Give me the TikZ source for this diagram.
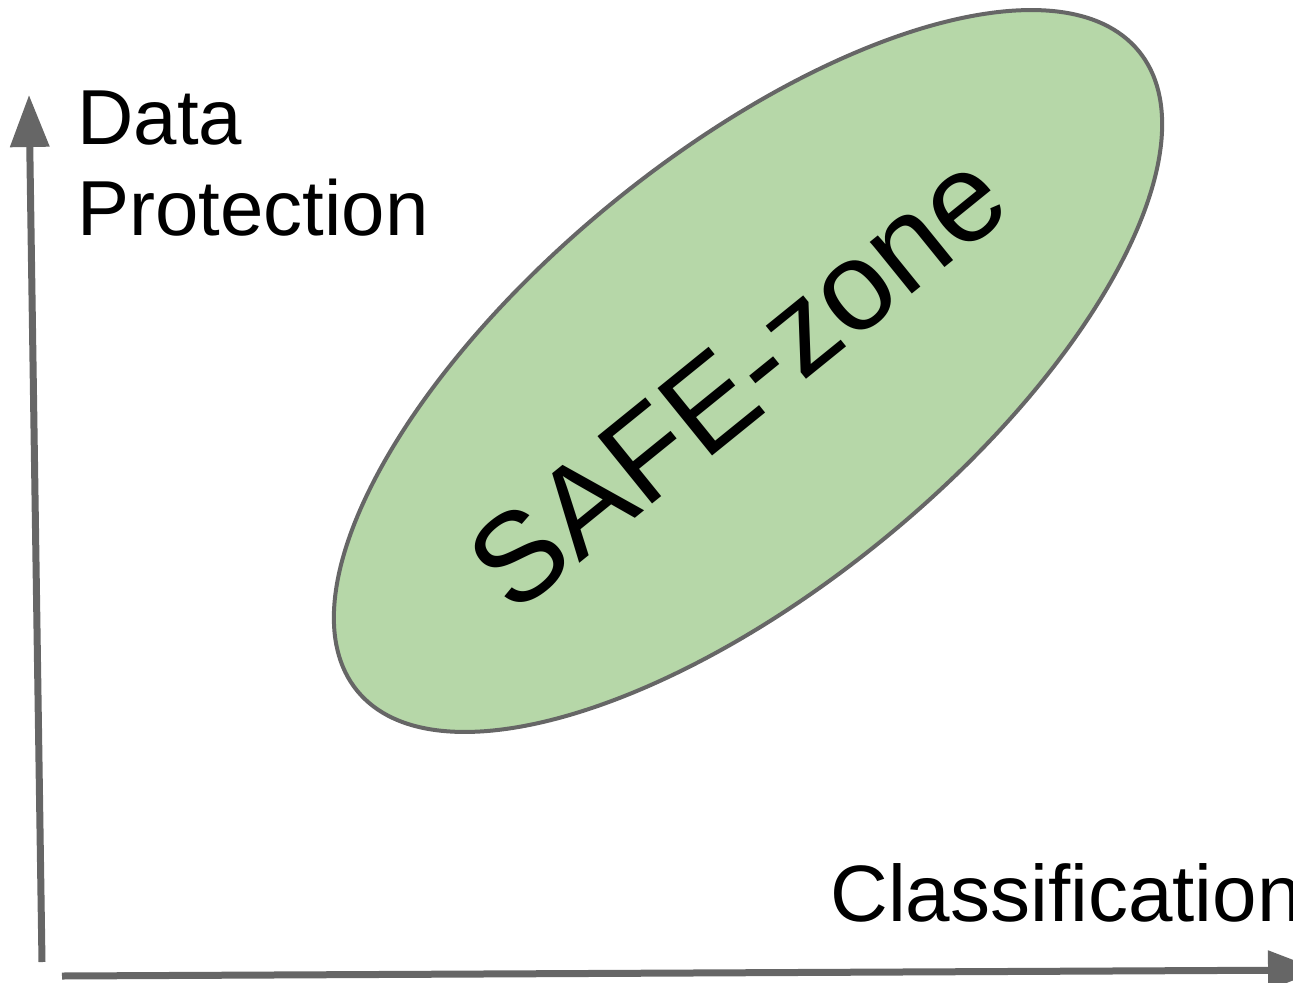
\documentclass[tikz,border=0pt]{standalone}
\usepackage{fontspec}
\setmainfont{Liberation Sans}
\usetikzlibrary{arrows.meta,shapes.geometric}
\definecolor{axisgray}{HTML}{666666}
\definecolor{zonegreen}{HTML}{B6D7A8}
\begin{document}
\begin{tikzpicture}[x=0.5pt, y=-0.5pt,
  axis/.style={draw=axisgray, line width=3.5pt, -{Triangle[length=26pt,width=19pt]}},
  lbl/.style={inner sep=0pt, font=\fontsize{39}{46}\selectfont},
  zone/.style={ellipse, draw=axisgray, fill=zonegreen, line width=2pt, inner sep=0pt}]
  \useasboundingbox (0,0) rectangle (1293,983);
  % axes
  \coordinate (ybot) at (42,962);
  \coordinate (ytop) at (29,95);
  \coordinate (xleft) at (62,976);
  \coordinate (xright) at (1320,970);
  \draw[axis] (ybot) -- (ytop);
  \draw[axis] (xleft) -- (xright);
  \node[lbl, anchor=base west] (data) at (77,145) {Data};
  \node[lbl, anchor=base west] (prot) at (77,236) {Protection};
  \node[lbl, anchor=base west, font=\fontsize{40}{47}\selectfont] (classif) at (830,921) {Classification};
  % safe zone
  \node[zone, rotate=39.3, minimum width=505pt, minimum height=216pt] (zone) at (748,371) {};
  \node[inner sep=0pt, rotate=39, font=\fontsize{63}{70}\selectfont] (zonelbl) at (737,380) {SAFE-zone};
\end{tikzpicture}
\end{document}
